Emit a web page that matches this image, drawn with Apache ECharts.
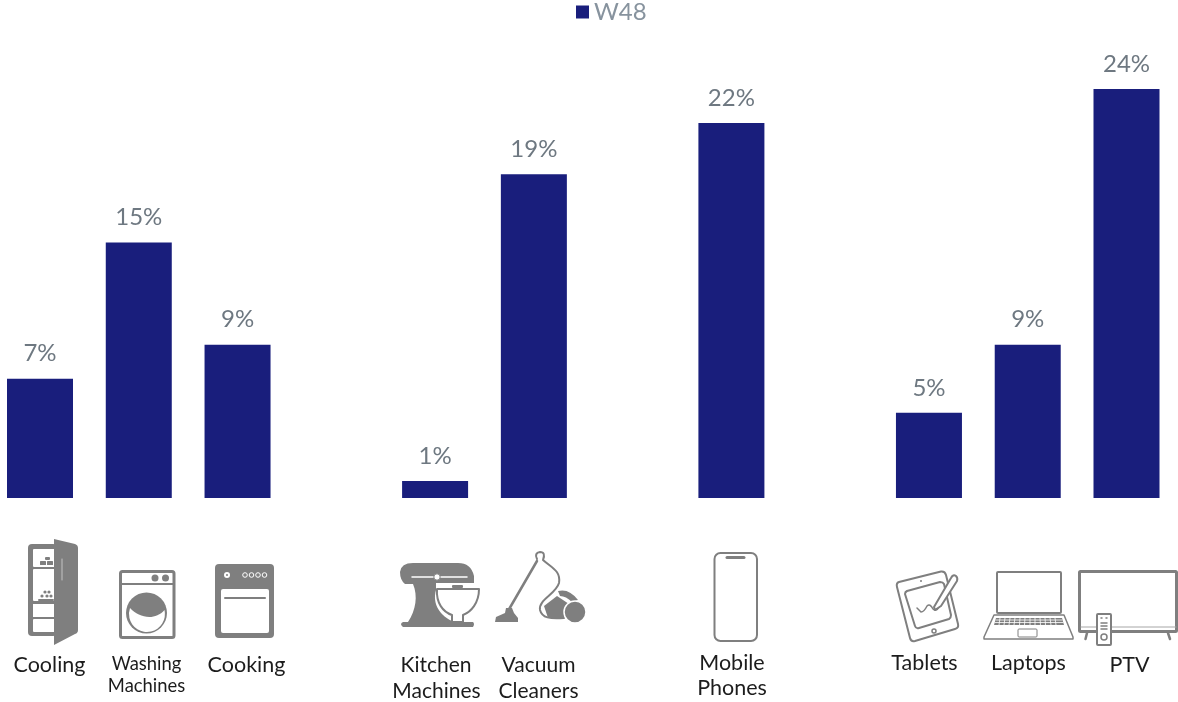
<!DOCTYPE html>
<html>
<head>
<meta charset="utf-8">
<title>W48</title>
<style>html,body{margin:0;padding:0;background:#fff}#chart{width:1178px;height:702px}</style>
<script src="https://cdn.jsdelivr.net/npm/echarts@6/dist/echarts.min.js"></script>
</head>
<body>
<div id="chart"></div>
<script>
// Product groups; empty slots separate the groups on the category axis.
const categories = ['Cooling', 'Washing Machines', 'Cooking', '', 'Kitchen Machines', 'Vacuum Cleaners', ' ', 'Mobile Phones', '  ', 'Tablets', 'Laptops', 'PTV'];
const w48 = [7, 15, 9, null, 1, 19, null, 22, null, 5, 9, 24];
const seriesName = 'W48';

const GREY = '#7f7f7f';
const NAVY = '#191e7c';

// Captions below the pictograms: text, centre x, centre y, font size.
const captions = [
  ['Cooling', 49.5, 665, 21.5], ['Washing', 146.5, 664, 18.4], ['Machines', 146.5, 686, 18.4], ['Cooking', 246.5, 665, 21.5],
  ['Kitchen', 436, 665, 21], ['Machines', 436.5, 691, 21], ['Vacuum', 538.5, 665, 21], ['Cleaners', 538.5, 691, 21],
  ['Mobile', 732, 663, 21.5], ['Phones', 732, 688, 21.5], ['Tablets', 924.5, 663, 21.5], ['Laptops', 1028.5, 663, 21.5], ['PTV', 1129.5, 665, 21.5]
];

// The graphic component only knows registered shape types, so each outline gets its own.
let pathCount = 0;
const pathType = (d) => {
  const name = 'iconPath' + pathCount++;
  echarts.graphic.registerShape(name, echarts.graphic.extendPath(d));
  return name;
};
const solid = (d, fill = GREY) => ({ type: pathType(d), silent: true, shape: {}, style: { fill, stroke: null } });
const line = (d, lineWidth = 2, stroke = GREY, fill = null) => ({ type: pathType(d), silent: true, shape: {}, style: { fill, stroke, lineWidth, lineCap: 'round', lineJoin: 'round' } });
const box = (x1, y1, x2, y2, r, fill = GREY, stroke = null, lineWidth = 0) => ({ type: 'rect', silent: true, shape: { x: x1, y: y1, width: x2 - x1, height: y2 - y1, r }, style: { fill, stroke, lineWidth } });
const dot = (cx, cy, r, fill = GREY, stroke = null, lineWidth = 0) => ({ type: 'circle', silent: true, shape: { cx, cy, r }, style: { fill, stroke, lineWidth } });

const fridge = [
  box(28, 544, 57, 636, 4),
  box(33, 549, 57, 567, 1, '#fff'), box(33, 569, 57, 601, 1, '#fff'),
  box(33, 604, 57, 617, 0, '#fff'), box(33, 619, 57, 632, 1, '#fff'),
  box(45, 557, 50, 560, 1), box(40, 561, 46, 565, 0.5), box(47, 561, 53, 565, 0.5),
  dot(45, 592, 1.6), dot(49, 592, 1.6), dot(42, 596, 1.6), dot(47, 596, 1.6), dot(51, 596, 1.6), box(38, 599, 54, 601, 1),
  solid('M54,539 L75,544 Q78,545 78,548 L78,630 Q78,633 75,634 L54,645 Z'),
  line('M62,559 L62,580', 1, '#c4c4c4')
];
const washer = [
  box(120.5, 571.5, 174, 637.5, 2, '#fff', GREY, 3),
  line('M120,584 L174,584', 2),
  dot(155, 578, 3.5), dot(165.5, 578, 3.5),
  dot(146.5, 613, 20.5),
  solid('M130,608 C139,618 155,621 164.5,610 A18,18 0 1 1 130,608 Z', '#fff')
];
const oven = [
  box(215, 564, 274, 638, 4),
  box(221, 589, 269, 633, 2, '#fff'),
  line('M225,598 L265,598', 2),
  dot(227, 575, 3, '#fff'), dot(227, 575, 1, GREY),
  dot(245, 575, 2.3, 'transparent', '#fff', 1), dot(251.5, 575, 2.3, 'transparent', '#fff', 1), dot(258, 575, 2.3, 'transparent', '#fff', 1), dot(264.5, 575, 2.3, 'transparent', '#fff', 1)
];
const mixer = [
  solid('M400,572 Q401,563 413,563 L458,563 Q471,563 474,576 L474,583 L436,583 L436,590 C432,604 440,616 454,622 L473,622 Q475,624 473,627 L403,627 Q399,624 403,622 L408,622 C416,610 418,596 413,584 L405,584 Q400,580 400,572 Z'),
  line('M412,577 L467,577', 1.5, '#fff'),
  dot(437, 577, 3.2, '#fff', GREY, 1),
  box(452, 585, 463, 588, 1),
  line('M437,589 L479,589 C479,603 471,612 463,615 L463,622 L452,622 L452,615 C443,612 436,603 437,589 Z', 2, GREY, '#fff')
];
const vacuum = [
  line('M537,561 L508,611', 2.5),
  line('M537,559 Q534,553 540,552 Q546,552 543,560 C552,568 561,571 559,583 C556,594 538,600 540,610 C542,618 550,619 564,618', 2),
  solid('M495,622 L496,617 L505,613 L506,608 L512,608 L514,613 L518,618 L518,622 Z'),
  solid('M544,606 L557,596 L572,606 L565,618 L548,618 Z'),
  solid('M558,591 Q569,588 578,600 L572,602 Q566,596 560,596 Z'),
  dot(575, 612, 11, GREY, '#fff', 1.5)
];
const phone = [
  box(714.5, 553, 757, 641, 6, '#fff', GREY, 2),
  line('M727,557.5 L744,557.5', 3)
];
const tablet = [
  line('M899,582 L941,571.5 Q945,571 946,575 L958,624 Q959,628 955,629 L915,641 Q911,642 910,638 L897,587 Q896,583 899,582 Z', 2),
  line('M907,591 L940,582 Q943,582 944,584 L951,615 Q951,618 949,619 L919,628 Q916,629 915,626 L905,594 Q905,592 907,591 Z', 2),
  dot(934, 631, 2, 'transparent', GREY, 1.5), dot(921, 581, 1),
  line('M917,608 L921,612 Q924,612 927,606 Q930,603 933,609 Q936,612 939,607', 1.5),
  line('M934,607 L951,578 Q953,574 956,576 Q958,578 957,581 L941,606 L935,610 Z', 2, GREY, '#fff')
];
const laptop = [
  box(997, 572, 1061, 613, 1, '#fff', GREY, 2),
  line('M994,615 L1064,615 L1073,637 L1073,639 L984,639 L984,637 Z', 1.5, GREY, '#fff'),
  solid('M996,618 L1062,618 L1064,625 L994,625 Z'),
  line('M996,620 L1062,620 M995,622.5 L1063,622.5 M1000,618 L999,625 M1005,618 L1004,625 M1010,618 L1009,625 M1015,618 L1014,625 M1020,618 L1019.5,625 M1025,618 L1024.5,625 M1030,618 L1030,625 M1035,618 L1035,625 M1040,618 L1040.5,625 M1045,618 L1045.5,625 M1050,618 L1051,625 M1055,618 L1056,625', 0.8, '#fff'),
  box(1018, 629, 1037, 637, 1, '#fff', GREY, 1)
];
const tv = [
  box(1079.5, 571.5, 1176.5, 631.5, 1, '#fff', GREY, 3),
  line('M1081,627 L1176,627', 1, '#a6a6a6'),
  line('M1087,633 L1085.5,639', 2.5), line('M1168,633 L1170,639', 2.5),
  box(1097, 614, 1111, 645, 1, '#fff', GREY, 2),
  line('M1101,618 L1102,618 M1106,618 L1107,618', 1.5),
  line('M1101,623 L1107,623 M1101,626 L1107,626 M1101,629 L1107,629', 1.5),
  dot(1104, 637, 3, '#fff', GREY, 1.5)
];

const captionText = captions.map(([text, x, y, size]) => ({
  type: 'text', silent: true, x, y,
  style: { text, fill: '#1c1c1c', font: `${size}px Lato`, textAlign: 'center', textVerticalAlign: 'middle' }
}));

const chart = echarts.init(document.getElementById('chart'), null, { renderer: 'canvas' });
chart.setOption({
  animation: false,
  backgroundColor: '#fff',
  textStyle: { fontFamily: 'Lato' },
  legend: {
    left: 576, top: 0,
    padding: 0, itemGap: 5, itemWidth: 13, itemHeight: 13,
    icon: 'rect',
    textStyle: { color: '#87939e', fontSize: 24, fontFamily: 'Lato', padding: [0, 0, 3, 0] },
    data: [seriesName]
  },
  // The first and last bars sit on the grid edges, so their outer halves overflow it.
  grid: { left: 40, right: 51.5, top: 72, height: 426 },
  xAxis: {
    type: 'category', data: categories, boundaryGap: false,
    axisLine: { show: false }, axisTick: { show: false }, axisLabel: { show: false }
  },
  yAxis: { type: 'value', min: 0, max: 25, show: false, splitLine: { show: false } },
  series: [{
    name: seriesName, type: 'bar', data: w48, barWidth: 66, clip: false,
    itemStyle: { color: NAVY },
    label: {
      show: true, position: 'top', distance: 13,
      color: '#6e7881', fontSize: 24, fontFamily: 'Lato', formatter: '{c}%'
    }
  }],
  graphic: { elements: [...fridge, ...washer, ...oven, ...mixer, ...vacuum, ...phone, ...tablet, ...laptop, ...tv, ...captionText] }
});
</script>
</body>
</html>
